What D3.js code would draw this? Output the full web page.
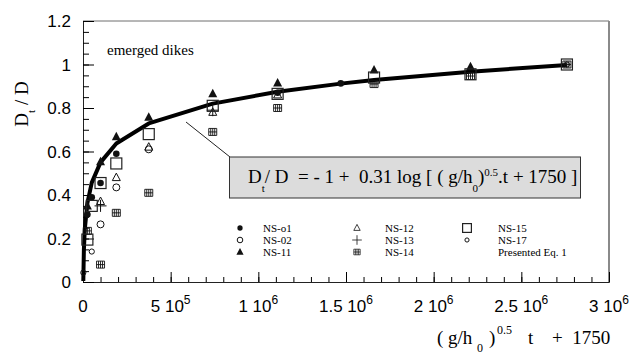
<!DOCTYPE html>
<html>
<head>
<meta charset="utf-8">
<script src="https://d3js.org/d3.v7.min.js"></script>
<style>
  body { margin: 0; background: #fff; }
  text { white-space: pre; }
</style>
</head>
<body>
<div id="chart"></div>
<script>
// curve of the presented equation
var eqX = [1750, 5000, 10000, 25000, 50000, 100000, 190000, 375000, 740000, 1110000, 1470000, 1660000, 2210000, 2760000]
var eqY = [0.005, 0.147, 0.24, 0.363, 0.457, 0.55, 0.637, 0.729, 0.82, 0.875, 0.912, 0.929, 0.967, 0.998]

// measured series
var ns01X = [25000, 50000, 100000, 190000, 1110000, 1470000]
var ns01Y = [0.31, 0.39, 0.455, 0.59, 0.87, 0.913]
var ns02X = [100000, 190000, 375000]
var ns02Y = [0.265, 0.435, 0.61]
var ns11X = [25000, 100000, 190000, 375000, 740000, 1110000, 1660000, 2210000]
var ns11Y = [0.35, 0.553, 0.668, 0.758, 0.866, 0.915, 0.975, 0.99]
var ns12X = [100000, 190000, 375000, 740000, 1110000]
var ns12Y = [0.37, 0.48, 0.62, 0.78, 0.86]
var ns13X = [100000, 740000]
var ns13Y = [0.35, 0.79]
var ns14X = [25000, 100000, 190000, 375000, 740000, 1110000, 1660000, 2210000, 2760000]
var ns14Y = [0.235, 0.08, 0.318, 0.41, 0.69, 0.80, 0.91, 0.947, 1.0]
var ns15X = [25000, 50000, 100000, 190000, 375000, 740000, 1110000, 1660000, 2210000, 2760000]
var ns15Y = [0.195, 0.35, 0.455, 0.545, 0.68, 0.81, 0.865, 0.94, 0.955, 1.0]
var ns17X = [1750, 50000, 2760000]
var ns17Y = [0.043, 0.14, 1.0]

var xMajor = [0, 500000, 1000000, 1500000, 2000000, 2500000, 3000000]
var xLabels = [["0", ""], ["5 10", "5"], ["1 10", "6"], ["1.5 10", "6"], ["2 10", "6"], ["2.5 10", "6"], ["3 10", "6"]]
var yMajor = [0, 0.2, 0.4, 0.6, 0.8, 1, 1.2]
var yLabels = ["0", "0.2", "0.4", "0.6", "0.8", "1", "1.2"]

var series = [
  {name: "NS-o1", type: "dot", xs: ns01X, ys: ns01Y},
  {name: "NS-02", type: "circle", xs: ns02X, ys: ns02Y},
  {name: "NS-11", type: "tri", xs: ns11X, ys: ns11Y},
  {name: "NS-12", type: "triOpen", xs: ns12X, ys: ns12Y},
  {name: "NS-13", type: "plus", xs: ns13X, ys: ns13Y},
  {name: "NS-14", type: "grid", xs: ns14X, ys: ns14Y},
  {name: "NS-15", type: "bigSq", xs: ns15X, ys: ns15Y},
  {name: "NS-17", type: "small", xs: ns17X, ys: ns17Y}
]

var width = 630, height = 356
var serif = "'Liberation Serif', 'Times New Roman', serif"
var sans = "'Liberation Sans', Arial, sans-serif"

var svg = d3.select("#chart").append("svg")
    .attr("width", width)
    .attr("height", height)

var x = d3.scaleLinear().domain([0, 3000000]).range([83, 609])
var y = d3.scaleLinear().domain([0, 1.2]).range([282, 21])

// frame (top and right in grey)
svg.append("line").attr("x1", 83).attr("x2", 609).attr("y1", 21).attr("y2", 21)
    .attr("stroke", "#6e6e6e").attr("stroke-width", 1)
svg.append("line").attr("x1", 609).attr("x2", 609).attr("y1", 21).attr("y2", 283)
    .attr("stroke", "#8a8a8a").attr("stroke-width", 2)

// minor + major ticks, pointing inward
var xMinor = d3.range(0, 3000001, 100000)
svg.append("g").attr("transform", "translate(0,282)")
    .call(d3.axisBottom(x).tickValues(xMinor).tickSize(-5).tickSizeOuter(0).tickFormat(""))
    .call(g => g.select(".domain").attr("stroke", "#222"))
svg.append("g").attr("transform", "translate(0,282)")
    .call(d3.axisBottom(x).tickValues(xMajor).tickSize(-10).tickSizeOuter(0).tickFormat(""))
    .call(g => g.select(".domain").remove())
var yMinor = d3.range(0, 1.2001, 0.05)
svg.append("g").attr("transform", "translate(83,0)")
    .call(d3.axisLeft(y).tickValues(yMinor).tickSize(-6).tickSizeOuter(0).tickFormat(""))
    .call(g => g.select(".domain").attr("stroke", "#222"))
svg.append("g").attr("transform", "translate(83,0)")
    .call(d3.axisLeft(y).tickValues(yMajor).tickSize(-11).tickSizeOuter(0).tickFormat(""))
    .call(g => g.select(".domain").remove())

// y tick labels
svg.selectAll(".ylab").data(yMajor).enter().append("text")
    .attr("x", 71).attr("y", d => y(d) + 6)
    .attr("text-anchor", "end")
    .style("font-family", sans).style("font-size", "17px")
    .text((d, i) => yLabels[i])

// x tick labels with superscripts
var xl = svg.selectAll(".xlab").data(xMajor).enter().append("text")
    .attr("x", d => x(d)).attr("y", 312)
    .attr("text-anchor", "middle")
    .style("font-family", sans).style("font-size", "17px")
xl.append("tspan").text((d, i) => xLabels[i][0])
xl.append("tspan").attr("dy", -8).style("font-size", "12px").text((d, i) => xLabels[i][1])

// axis titles
var yt = svg.append("text")
    .attr("transform", "translate(28,104) rotate(-90)")
    .attr("text-anchor", "middle")
    .style("font-family", serif).style("font-size", "19px")
yt.append("tspan").text("D")
yt.append("tspan").attr("dy", 7).style("font-size", "11px").text("t")
yt.append("tspan").attr("dy", -7).text(" / D")

// x title, pieces placed as in the picture
var xtParts = [["( g/h", 437, 344, 19], ["0", 477, 352, 12], [")", 489, 344, 19], ["0.5", 497, 334, 12],
               ["t", 528, 344, 19], ["+  1750", 552, 344, 19]]
svg.selectAll(".xt").data(xtParts).enter().append("text")
    .attr("x", d => d[1]).attr("y", d => d[2])
    .style("font-family", serif).style("font-size", d => d[3] + "px")
    .text(d => d[0])

svg.append("text").attr("x", 107).attr("y", 55)
    .style("font-family", serif).style("font-size", "15px")
    .text("emerged dikes")

// equation curve
var line = d3.line().x(d => x(d[0])).y(d => y(d[1]))
svg.append("path")
    .datum(d3.zip(eqX, eqY))
    .attr("d", line)
    .attr("fill", "none").attr("stroke", "#000").attr("stroke-width", 4)
    .attr("stroke-linejoin", "round")

// marker drawing
function marker(g, type, k) {
  k = k || 1
  if (type == "dot") {
    g.append("circle").attr("r", 3.3 * k).attr("fill", "#111")
  } else if (type == "circle") {
    g.append("circle").attr("r", 3.5 * k).attr("fill", "none").attr("stroke", "#111").attr("stroke-width", 1)
  } else if (type == "small") {
    g.append("circle").attr("r", 2.6 * k).attr("fill", "none").attr("stroke", "#111").attr("stroke-width", 1)
  } else if (type == "tri") {
    g.append("path").attr("d", "M0,-5L4.5,3.5L-4.5,3.5Z").attr("transform", "scale(" + k + ")").attr("fill", "#111")
  } else if (type == "triOpen") {
    g.append("path").attr("d", "M0,-4.5L4,3L-4,3Z").attr("transform", "scale(" + k + ")")
      .attr("fill", "none").attr("stroke", "#111").attr("stroke-width", 1)
  } else if (type == "plus") {
    g.append("path").attr("d", "M-6,0H6M0,-6V6").attr("transform", "scale(" + k + ")")
      .attr("stroke", "#111").attr("stroke-width", 1)
  } else if (type == "grid") {
    g.append("path").attr("d", "M-4,-3.5H4V3.5H-4ZM0,-3.5V3.5M-4,0H4M-2,-3.5V3.5M2,-3.5V3.5")
      .attr("transform", "scale(" + k + ")")
      .attr("fill", "none").attr("stroke", "#111").attr("stroke-width", 0.9)
  } else if (type == "bigSq") {
    g.append("rect").attr("x", -5.5 * k).attr("y", -5.5 * k).attr("width", 11 * k).attr("height", 11 * k)
      .attr("fill", "none").attr("stroke", "#222").attr("stroke-width", 1.2)
  }
}

series.forEach(function(s) {
  var pts = d3.zip(s.xs, s.ys)
  svg.append("g").selectAll("g").data(pts).enter().append("g")
      .attr("transform", d => "translate(" + x(d[0]) + "," + y(d[1]) + ")")
      .each(function() { marker(d3.select(this), s.type) })
})

// leader line and equation box
svg.append("line").attr("x1", 186).attr("y1", 122).attr("x2", 230).attr("y2", 157)
    .attr("stroke", "#222").attr("stroke-width", 1)
svg.append("rect").attr("x", 229.5).attr("y", 157).attr("width", 351).attr("height", 41)
    .attr("fill", "#dcdcdc").attr("stroke", "#333").attr("stroke-width", 1)
var eq = svg.append("text").attr("x", 248).attr("y", 183)
    .style("font-family", serif).style("font-size", "19px")
eq.append("tspan").text("D")
eq.append("tspan").attr("dy", 9).style("font-size", "11px").text("t")
eq.append("tspan").attr("dy", -9).text("/ D  = - 1 +  0.31 log [ ( g/h")
eq.append("tspan").attr("dy", 9).style("font-size", "11px").text("0")
eq.append("tspan").attr("dy", -9).text(")")
eq.append("tspan").attr("dy", -7).style("font-size", "11px").text("0.5")
eq.append("tspan").attr("dy", 7).text(".t + 1750 ]")

// legend
var legX = [240, 357, 467]
var legRows = [228, 240, 252]
var legItems = series.concat([{name: "Presented Eq. 1", type: "none"}])
legItems.forEach(function(s, i) {
  var col = Math.floor(i / 3), row = i % 3
  var g = svg.append("g").attr("transform", "translate(" + legX[col] + "," + legRows[row] + ")")
  if (s.type != "none") marker(g, s.type, 0.8)
  g.append("text").attr("x", [23, 28, 31][col]).attr("y", 4)
      .style("font-family", serif).style("font-size", "11px")
      .text(s.name)
})
</script>
</body>
</html>
